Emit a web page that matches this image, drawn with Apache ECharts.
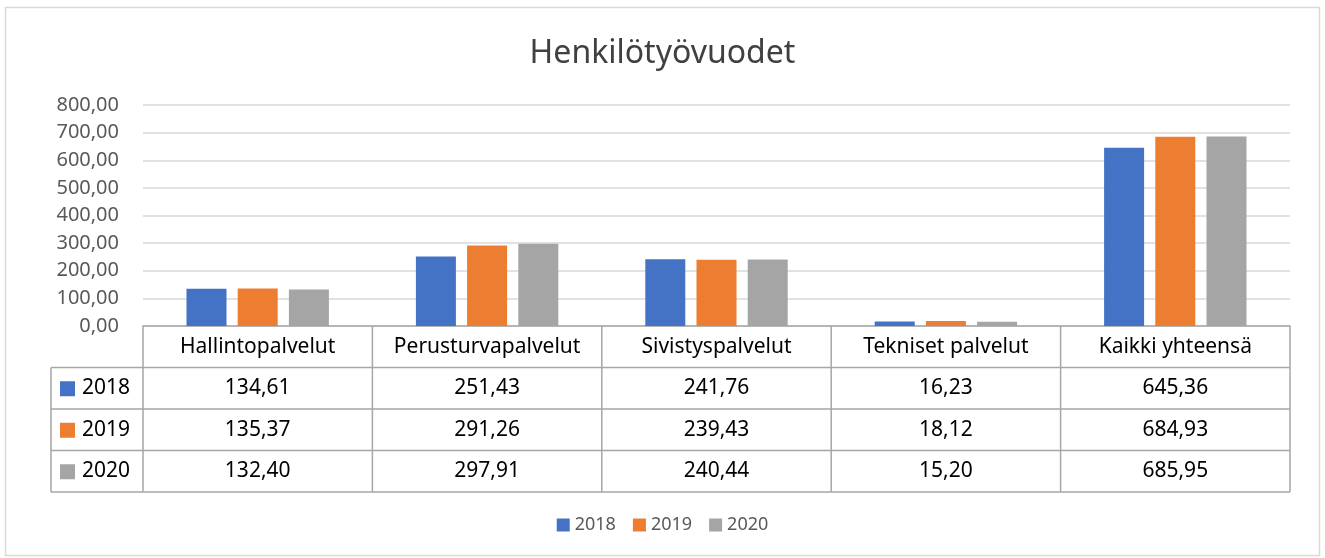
<!DOCTYPE html>
<html>
<head>
<meta charset="utf-8">
<script src="https://cdn.jsdelivr.net/npm/echarts@6/dist/echarts.min.js"></script>
<style>
  html, body { margin: 0; padding: 0; background: #ffffff; }
  #chart { width: 1325px; height: 558px; }
</style>
</head>
<body>
<div id="chart"></div>
<script>
// data
var categories = ['Hallintopalvelut', 'Perusturvapalvelut', 'Sivistyspalvelut', 'Tekniset palvelut', 'Kaikki yhteensä']
var years = ['2018', '2019', '2020']
var values2018 = [134.61, 251.43, 241.76, 16.23, 645.36]
var values2019 = [135.37, 291.26, 239.43, 18.12, 684.93]
var values2020 = [132.40, 297.91, 240.44, 15.20, 685.95]
var colors = ['#4472c4', '#ed7d31', '#a5a5a5']

var FONT = '"Noto Sans", sans-serif'
var fmt = function (v) { return v.toFixed(2).replace('.', ',') }

var gridLeft = 143
var gridRight = 35
var gridTop = 105
var gridBottom = 232
var rowH = 41.5
var labelColLeft = 51

var allValues = [values2018, values2019, values2020]

var myChart = echarts.init(document.getElementById('chart'))
myChart.setOption({
  animation: false,
  color: colors,
  title: {
    text: 'Henkilötyövuodet',
    left: 'center',
    top: 33,
    textStyle: { fontFamily: FONT, fontSize: 32, fontWeight: 'normal', color: '#404040' }
  },
  legend: {
    bottom: 19,
    left: 'center',
    itemWidth: 13,
    itemHeight: 13,
    itemGap: 17,
    icon: 'rect',
    data: years,
    textStyle: { fontFamily: FONT, fontSize: 18, color: '#595959' }
  },
  grid: { left: gridLeft, right: gridRight, top: gridTop, bottom: gridBottom },
  xAxis: {
    type: 'category',
    data: categories,
    axisLine: { lineStyle: { color: '#a6a6a6', width: 1.5 } },
    axisTick: { show: false },
    axisLabel: { show: false }
  },
  yAxis: {
    type: 'value',
    min: 0,
    max: 800,
    interval: 100,
    axisLine: { show: false },
    axisTick: { show: false },
    splitLine: { lineStyle: { color: '#d9d9d9', width: 1.5 } },
    axisLabel: {
      formatter: fmt,
      margin: 24,
      fontFamily: FONT,
      fontSize: 20,
      color: '#595959'
    }
  },
  series: years.map(function (y, i) {
    return {
      name: y,
      type: 'bar',
      data: allValues[i],
      barWidth: 40,
      barGap: '28%'
    }
  })
})

// data table under the plot, positioned from the category axis
function drawTable () {
  var p0 = myChart.convertToPixel({ xAxisIndex: 0 }, 0)
  var p1 = myChart.convertToPixel({ xAxisIndex: 0 }, 1)
  var band = p1 - p0
  var top = myChart.convertToPixel({ yAxisIndex: 0 }, 0)
  var left = gridLeft
  var right = left + band * categories.length
  var bottom = top + rowH * (years.length + 1)
  var line = { stroke: '#a6a6a6', lineWidth: 1.5 }
  var font = '21px ' + FONT
  var els = []

  // horizontal lines
  for (var r = 1; r <= years.length + 1; r++) {
    var y = top + rowH * r
    els.push({ type: 'line', shape: { x1: labelColLeft, y1: y, x2: right, y2: y }, style: line })
  }
  // vertical lines
  els.push({ type: 'line', shape: { x1: labelColLeft, y1: top + rowH, x2: labelColLeft, y2: bottom }, style: line })
  for (var c = 0; c <= categories.length; c++) {
    var x = left + band * c
    els.push({ type: 'line', shape: { x1: x, y1: top, x2: x, y2: bottom }, style: line })
  }
  // header
  categories.forEach(function (name, c) {
    els.push({
      type: 'text',
      x: left + band * (c + 0.5),
      y: top + rowH / 2,
      style: { text: name, align: 'center', verticalAlign: 'middle', font: font, fill: '#000000' }
    })
  })
  // rows
  years.forEach(function (yr, r) {
    var cy = top + rowH * (r + 1.5)
    els.push({
      type: 'rect',
      shape: { x: labelColLeft + 9, y: cy - 7, width: 15, height: 15 },
      style: { fill: colors[r] }
    })
    els.push({
      type: 'text',
      x: labelColLeft + 31,
      y: cy,
      style: { text: yr, align: 'left', verticalAlign: 'middle', font: font, fill: '#000000' }
    })
    allValues[r].forEach(function (v, c) {
      els.push({
        type: 'text',
        x: left + band * (c + 0.5),
        y: cy,
        style: { text: fmt(v), align: 'center', verticalAlign: 'middle', font: font, fill: '#000000' }
      })
    })
  })
  // outer frame
  els.push({
    type: 'rect',
    shape: { x: 5.5, y: 7.5, width: 1314, height: 548 },
    style: { fill: null, stroke: '#d9d9d9', lineWidth: 1.5 },
    silent: true
  })

  myChart.setOption({ graphic: els })
}
drawTable()
</script>
</body>
</html>
